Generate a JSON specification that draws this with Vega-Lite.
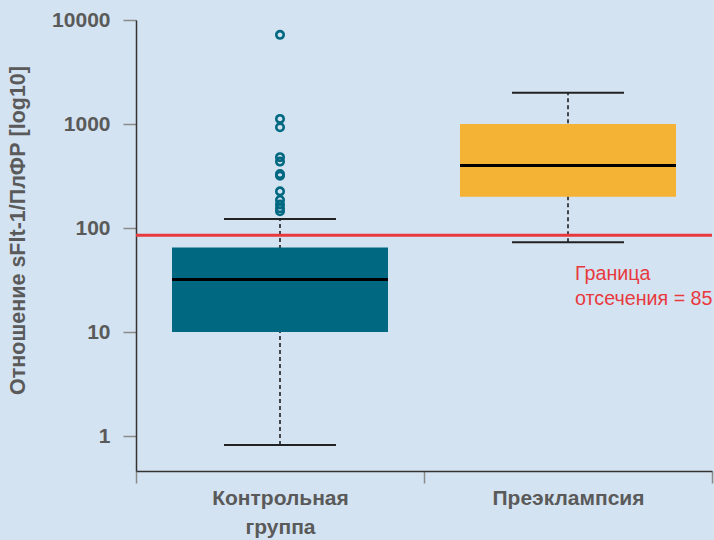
{
  "$schema": "https://vega.github.io/schema/vega-lite/v6.json",
  "width": 576,
  "height": 451,
  "autosize": {"type": "none"},
  "padding": {"left": 136, "top": 20, "right": 2, "bottom": 69},
  "background": "#d4e3f1",
  "config": {
    "view": {"stroke": null},
    "font": "Liberation Sans",
    "tick": {"opacity": 1}
  },
  "datasets": {
    "boxes": [
      {"group": "Контрольная группа", "low": 0.82, "q1": 10, "median": 32, "q3": 65, "high": 122},
      {"group": "Преэклампсия", "low": 73, "q1": 200, "median": 400, "q3": 1000, "high": 2000}
    ],
    "outliers": [
      {"group": "Контрольная группа", "value": 7200},
      {"group": "Контрольная группа", "value": 1120},
      {"group": "Контрольная группа", "value": 930},
      {"group": "Контрольная группа", "value": 480},
      {"group": "Контрольная группа", "value": 435},
      {"group": "Контрольная группа", "value": 330},
      {"group": "Контрольная группа", "value": 318},
      {"group": "Контрольная группа", "value": 225},
      {"group": "Контрольная группа", "value": 186},
      {"group": "Контрольная группа", "value": 168},
      {"group": "Контрольная группа", "value": 155},
      {"group": "Контрольная группа", "value": 145}
    ],
    "cutoff": [
      {"group": "Преэклампсия", "value": 85, "label": ["Граница", "отсечения = 85"]}
    ]
  },
  "layer": [
    {
      "data": {"name": "boxes"},
      "mark": {"type": "rule", "strokeDash": [4, 3], "strokeWidth": 1.5, "color": "#111111"},
      "encoding": {
        "x": {
          "field": "group",
          "type": "nominal",
          "sort": null,
          "scale": {"domain": ["Контрольная группа", "Преэклампсия"], "paddingInner": 0, "paddingOuter": 0},
          "axis": {
            "title": null,
            "labelAngle": 0,
            "labelFont": "Liberation Sans",
            "labelFontSize": 21,
            "labelFontWeight": "bold",
            "labelColor": "#5a5a5a",
            "labelBaseline": "top",
            "labelPadding": 4,
            "labelLineHeight": 29,
            "labelExpr": "datum.label == 'Контрольная группа' ? ['Контрольная', 'группа'] : datum.label",
            "tickBand": "extent",
            "tickSize": 12,
            "tickWidth": 1.5,
            "tickColor": "#8a8a8a",
            "domainColor": "#333333",
            "domainWidth": 1.5
          }
        },
        "y": {
          "field": "low",
          "type": "quantitative",
          "scale": {"type": "log", "domain": [0.461, 10000], "nice": false},
          "axis": {
            "title": "Отношение sFlt-1/ПлФР [log10]",
            "titleFont": "Liberation Sans",
            "titleFontSize": 21.5,
            "titleFontWeight": "bold",
            "titleColor": "#5a5a5a",
            "titleAngle": 270,
            "titleAlign": "center",
            "titleBaseline": "middle",
            "titleX": -118,
            "titleY": 210,
            "values": [1, 10, 100, 1000, 10000],
            "format": "d",
            "labelFont": "Liberation Sans",
            "labelFontSize": 21,
            "labelFontWeight": "bold",
            "labelColor": "#5a5a5a",
            "labelPadding": 13,
            "tickSize": 13,
            "tickWidth": 1.5,
            "tickColor": "#8a8a8a",
            "domainColor": "#333333",
            "domainWidth": 1.5,
            "grid": false
          }
        },
        "y2": {"field": "high"}
      }
    },
    {
      "data": {"name": "boxes"},
      "mark": {"type": "bar", "width": {"band": 0.75}},
      "encoding": {
        "x": {"field": "group", "type": "nominal", "sort": null},
        "y": {"field": "q1", "type": "quantitative"},
        "y2": {"field": "q3"},
        "color": {
          "field": "group",
          "type": "nominal",
          "scale": {"domain": ["Контрольная группа", "Преэклампсия"], "range": ["#006880", "#f5b335"]},
          "legend": null
        }
      }
    },
    {
      "data": {"name": "boxes"},
      "mark": {"type": "tick", "size": 216, "thickness": 3, "color": "#000000", "opacity": 1},
      "encoding": {
        "x": {"field": "group", "type": "nominal", "sort": null},
        "y": {"field": "median", "type": "quantitative"}
      }
    },
    {
      "data": {"name": "boxes"},
      "mark": {"type": "tick", "size": 112, "thickness": 2, "color": "#222222", "opacity": 1},
      "encoding": {
        "x": {"field": "group", "type": "nominal", "sort": null},
        "y": {"field": "low", "type": "quantitative"}
      }
    },
    {
      "data": {"name": "boxes"},
      "mark": {"type": "tick", "size": 112, "thickness": 2, "color": "#222222", "opacity": 1},
      "encoding": {
        "x": {"field": "group", "type": "nominal", "sort": null},
        "y": {"field": "high", "type": "quantitative"}
      }
    },
    {
      "data": {"name": "outliers"},
      "mark": {"type": "point", "filled": false, "size": 55, "strokeWidth": 2.6, "color": "#006880", "opacity": 1},
      "encoding": {
        "x": {"field": "group", "type": "nominal", "sort": null},
        "y": {"field": "value", "type": "quantitative"}
      }
    },
    {
      "data": {"name": "cutoff"},
      "mark": {"type": "rule", "color": "#e8393e", "strokeWidth": 3},
      "encoding": {
        "y": {"field": "value", "type": "quantitative"}
      }
    },
    {
      "data": {"name": "cutoff"},
      "mark": {
        "type": "text",
        "align": "left",
        "baseline": "alphabetic",
        "dx": 7,
        "dy": 45,
        "font": "Liberation Sans",
        "fontSize": 19.7,
        "lineHeight": 25,
        "color": "#e8393e"
      },
      "encoding": {
        "x": {"field": "group", "type": "nominal", "sort": null},
        "y": {"field": "value", "type": "quantitative"},
        "text": {"field": "label"}
      }
    }
  ]
}
